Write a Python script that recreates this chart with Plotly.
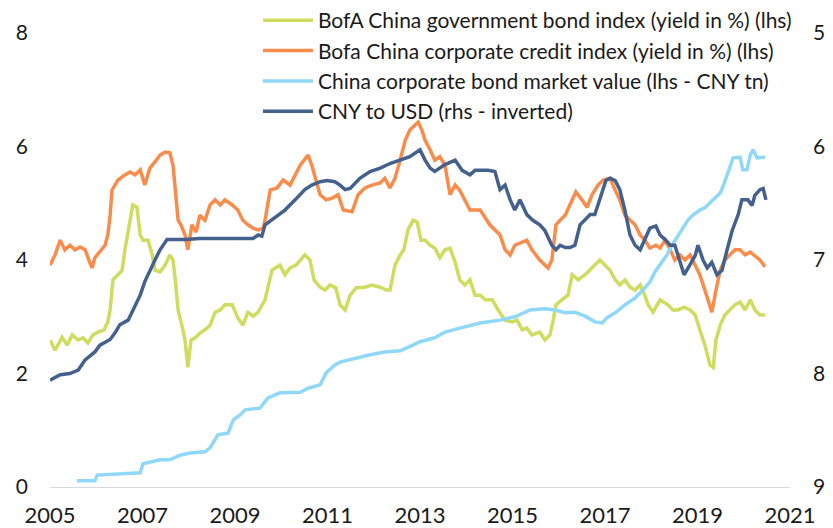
import plotly.graph_objects as go

# ---- Data ----
gov_t = [2005.00,2005.11,2005.26,2005.37,2005.48,2005.61,2005.71,2005.82,2005.93,2006.04,2006.17,2006.25,2006.30,2006.36,2006.47,2006.56,2006.62,2006.73,2006.79,2006.88,2006.95,2007.01,2007.12,2007.21,2007.27,2007.38,2007.49,2007.59,2007.66,2007.72,2007.77,2007.85,2007.92,2007.98,2008.05,2008.14,2008.24,2008.35,2008.46,2008.57,2008.68,2008.78,2008.94,2009.06,2009.17,2009.28,2009.39,2009.50,2009.65,2009.80,2009.97,2010.08,2010.19,2010.32,2010.41,2010.51,2010.62,2010.71,2010.84,2010.95,2011.05,2011.18,2011.27,2011.38,2011.49,2011.62,2011.81,2011.96,2012.14,2012.27,2012.35,2012.46,2012.57,2012.65,2012.74,2012.85,2012.94,2013.02,2013.11,2013.22,2013.32,2013.43,2013.54,2013.65,2013.76,2013.86,2013.97,2014.08,2014.19,2014.30,2014.41,2014.56,2014.69,2014.84,2014.99,2015.10,2015.21,2015.31,2015.42,2015.59,2015.70,2015.81,2015.88,2015.94,2016.07,2016.20,2016.29,2016.42,2016.57,2016.68,2016.78,2016.89,2017.00,2017.11,2017.22,2017.32,2017.43,2017.54,2017.65,2017.76,2017.86,2017.93,2018.04,2018.10,2018.19,2018.36,2018.47,2018.58,2018.71,2018.84,2018.95,2019.05,2019.16,2019.27,2019.34,2019.40,2019.49,2019.59,2019.70,2019.81,2019.92,2020.03,2020.14,2020.24,2020.35,2020.46]
gov_v = [2.59,2.41,2.64,2.50,2.68,2.59,2.63,2.54,2.68,2.73,2.77,2.91,3.12,3.65,3.74,3.82,4.18,4.71,4.97,4.93,4.44,4.35,4.35,4.09,3.82,3.79,3.91,4.09,4.00,3.56,3.12,2.85,2.59,2.11,2.59,2.63,2.71,2.77,2.85,3.08,3.12,3.21,3.21,2.98,2.85,3.08,3.01,3.08,3.30,3.82,3.91,3.74,3.86,3.91,4.00,4.09,4.00,3.65,3.52,3.47,3.56,3.51,3.21,3.12,3.38,3.51,3.52,3.56,3.52,3.47,3.47,3.91,4.09,4.18,4.53,4.70,4.67,4.35,4.35,4.26,4.21,4.04,4.18,4.21,3.96,3.65,3.56,3.65,3.38,3.38,3.30,3.30,3.12,2.94,2.91,2.94,2.77,2.80,2.68,2.73,2.59,2.68,2.94,3.21,3.30,3.38,3.74,3.65,3.74,3.82,3.91,4.00,3.91,3.82,3.65,3.56,3.65,3.52,3.47,3.56,3.38,3.21,3.08,3.17,3.30,3.21,3.12,3.12,3.17,3.12,3.03,2.77,2.50,2.15,2.11,2.59,2.85,3.03,3.12,3.21,3.26,3.12,3.30,3.12,3.03,3.03]

corp_t = [2005.00,2005.11,2005.22,2005.32,2005.43,2005.54,2005.65,2005.76,2005.86,2005.91,2005.97,2006.08,2006.19,2006.25,2006.30,2006.34,2006.41,2006.47,2006.62,2006.73,2006.84,2006.95,2007.05,2007.16,2007.27,2007.38,2007.49,2007.59,2007.66,2007.72,2007.77,2007.83,2007.92,2007.98,2008.07,2008.16,2008.24,2008.35,2008.46,2008.57,2008.68,2008.78,2008.94,2009.06,2009.17,2009.28,2009.39,2009.50,2009.61,2009.65,2009.76,2009.91,2010.04,2010.19,2010.30,2010.41,2010.58,2010.66,2010.75,2010.84,2010.97,2011.10,2011.23,2011.34,2011.53,2011.66,2011.81,2011.96,2012.14,2012.24,2012.35,2012.46,2012.57,2012.68,2012.78,2012.96,2013.04,2013.11,2013.22,2013.32,2013.43,2013.54,2013.65,2013.76,2013.86,2013.97,2014.08,2014.30,2014.51,2014.73,2014.84,2014.95,2015.05,2015.31,2015.42,2015.59,2015.77,2015.85,2015.94,2016.03,2016.14,2016.24,2016.37,2016.50,2016.61,2016.72,2016.85,2016.96,2017.11,2017.22,2017.32,2017.43,2017.54,2017.65,2017.76,2017.86,2017.97,2018.10,2018.19,2018.30,2018.41,2018.51,2018.62,2018.73,2018.84,2019.05,2019.16,2019.31,2019.40,2019.49,2019.59,2019.70,2019.81,2019.92,2020.03,2020.14,2020.24,2020.35,2020.46]
corp_v = [3.91,4.09,4.35,4.18,4.26,4.18,4.23,4.18,3.96,3.86,4.04,4.14,4.26,4.44,4.79,5.23,5.32,5.41,5.50,5.55,5.50,5.59,5.32,5.62,5.73,5.85,5.90,5.89,5.67,5.06,4.70,4.62,4.44,4.18,4.62,4.49,4.79,4.70,4.97,5.06,4.97,5.06,4.97,4.88,4.70,4.62,4.56,4.53,4.56,4.70,5.23,5.27,5.41,5.32,5.50,5.67,5.85,5.67,5.41,5.15,5.06,5.09,5.15,4.88,4.85,5.15,5.27,5.32,5.36,5.44,5.27,5.44,5.76,6.11,6.29,6.43,6.29,6.11,5.94,5.76,5.82,5.67,5.15,5.32,5.23,5.06,4.88,4.88,4.62,4.44,4.18,4.09,4.26,4.35,4.18,4.00,3.86,4.00,4.62,4.70,4.79,4.97,5.20,5.06,4.93,5.15,5.32,5.41,5.44,5.23,5.06,4.79,4.70,4.62,4.44,4.35,4.21,4.26,4.21,4.35,4.18,4.00,4.09,4.00,4.09,3.74,3.47,3.08,3.47,3.82,4.00,4.09,4.18,4.18,4.09,4.14,4.07,4.00,3.88]

mkt_t = [2005.58,2005.97,2006.02,2006.73,2006.95,2007.01,2007.38,2007.59,2007.81,2008.03,2008.35,2008.46,2008.63,2008.85,2008.96,2009.11,2009.22,2009.54,2009.71,2009.97,2010.41,2010.58,2010.84,2010.97,2011.16,2011.27,2011.59,2011.92,2012.24,2012.57,2012.85,2013.00,2013.32,2013.54,2013.86,2014.30,2014.73,2015.05,2015.38,2015.70,2015.92,2016.14,2016.35,2016.57,2016.78,2016.94,2017.04,2017.22,2017.43,2017.65,2017.82,2017.97,2018.08,2018.19,2018.34,2018.45,2018.56,2018.69,2018.79,2018.90,2019.05,2019.16,2019.27,2019.38,2019.49,2019.55,2019.64,2019.77,2019.92,2019.98,2020.07,2020.14,2020.20,2020.29,2020.46]
mkt_v = [0.11,0.11,0.21,0.23,0.25,0.41,0.48,0.48,0.56,0.60,0.62,0.69,0.92,0.95,1.18,1.27,1.36,1.39,1.57,1.66,1.67,1.74,1.80,2.01,2.15,2.20,2.27,2.33,2.38,2.40,2.50,2.56,2.63,2.73,2.80,2.89,2.94,3.00,3.12,3.14,3.12,3.07,3.08,3.01,2.91,2.89,2.98,3.07,3.21,3.33,3.47,3.61,3.79,3.91,4.09,4.26,4.41,4.56,4.70,4.79,4.88,4.92,5.00,5.09,5.18,5.29,5.50,5.80,5.81,5.59,5.59,5.85,5.94,5.80,5.81]

cny_t = [2005.00,2005.22,2005.43,2005.61,2005.76,2005.97,2006.08,2006.30,2006.41,2006.51,2006.69,2006.79,2006.95,2007.05,2007.16,2007.27,2007.38,2007.44,2007.53,2007.70,2007.92,2008.24,2008.68,2009.11,2009.39,2009.50,2009.58,2009.65,2009.86,2010.08,2010.30,2010.51,2010.66,2010.84,2010.99,2011.16,2011.27,2011.38,2011.49,2011.70,2011.92,2012.14,2012.35,2012.57,2012.78,2013.00,2013.11,2013.22,2013.32,2013.54,2013.76,2013.91,2014.08,2014.19,2014.47,2014.62,2014.73,2014.84,2014.95,2015.05,2015.16,2015.31,2015.44,2015.59,2015.70,2015.85,2015.94,2016.03,2016.14,2016.24,2016.35,2016.46,2016.57,2016.68,2016.78,2016.89,2017.02,2017.11,2017.22,2017.32,2017.43,2017.54,2017.65,2017.76,2017.86,2017.97,2018.10,2018.19,2018.30,2018.41,2018.51,2018.62,2018.71,2018.84,2018.95,2019.01,2019.12,2019.21,2019.31,2019.42,2019.53,2019.64,2019.75,2019.88,2019.96,2020.09,2020.18,2020.24,2020.35,2020.42,2020.48]
cny_v = [8.06,8.01,8.00,7.97,7.88,7.81,7.75,7.70,7.64,7.57,7.53,7.44,7.31,7.19,7.09,7.00,6.91,6.87,6.82,6.82,6.82,6.81,6.81,6.81,6.81,6.78,6.79,6.69,6.63,6.56,6.47,6.38,6.34,6.31,6.30,6.31,6.34,6.38,6.37,6.28,6.22,6.19,6.15,6.12,6.09,6.03,6.12,6.19,6.22,6.16,6.12,6.21,6.25,6.21,6.21,6.22,6.38,6.34,6.47,6.56,6.47,6.60,6.65,6.69,6.74,6.87,6.91,6.87,6.89,6.89,6.87,6.69,6.65,6.60,6.60,6.47,6.30,6.28,6.30,6.38,6.56,6.78,6.87,6.91,6.82,6.72,6.70,6.78,6.82,6.87,6.87,7.02,7.13,7.04,6.96,6.87,7.00,7.07,7.02,7.13,7.09,6.91,6.74,6.60,6.47,6.47,6.52,6.43,6.38,6.37,6.47]

names = [
    "BofA China government bond index (yield in %) (lhs)",
    "Bofa China corporate credit index (yield in %) (lhs)",
    "China corporate bond market value (lhs - CNY tn)",
    "CNY to USD (rhs - inverted)",
]
colors = ["#CEDC60", "#FA8C4B", "#8FD8F8", "#44608C"]
x_ticks = [2005, 2007, 2009, 2011, 2013, 2015, 2017, 2019, 2021]
left_ticks = [0, 2, 4, 6, 8]
right_ticks = [5, 6, 7, 8, 9]

FONT = "Lato"
LW = 3.5

fig = go.Figure()
fig.add_trace(go.Scatter(x=gov_t, y=gov_v, name=names[0], mode="lines",
                         line=dict(color=colors[0], width=LW), yaxis="y"))
fig.add_trace(go.Scatter(x=corp_t, y=corp_v, name=names[1], mode="lines",
                         line=dict(color=colors[1], width=LW), yaxis="y"))
fig.add_trace(go.Scatter(x=mkt_t, y=mkt_v, name=names[2], mode="lines",
                         line=dict(color=colors[2], width=LW), yaxis="y"))
fig.add_trace(go.Scatter(x=cny_t, y=cny_v, name=names[3], mode="lines",
                         line=dict(color=colors[3], width=LW), yaxis="y2"))

# page body has an 8px margin, so the figure is sized to end at the window edge
fig.update_layout(
    width=825, height=520,
    margin=dict(l=42, r=43, t=25, b=41, autoexpand=False),
    paper_bgcolor="white", plot_bgcolor="white",
    font=dict(family=FONT, size=21, color="#1a1a1a"),
    showlegend=True,
    legend=dict(x=0.281, y=1.0724, xanchor="left", yanchor="top",
                bgcolor="rgba(0,0,0,0)", font=dict(size=21, family=FONT, color="#1a1a1a"),
                itemwidth=50),
    xaxis=dict(range=[2005, 2021], tickvals=x_ticks, ticktext=[str(v) for v in x_ticks],
               showgrid=False, zeroline=False, showline=True, linecolor="#d9d9d9", linewidth=1,
               ticks="", ticklabelstandoff=9, tickfont=dict(size=22)),
    yaxis=dict(range=[0, 8], tickvals=left_ticks, showgrid=False, zeroline=False,
               showline=False, ticks="", ticklabelstandoff=21, tickfont=dict(size=21)),
    yaxis2=dict(range=[9, 5], tickvals=right_ticks, overlaying="y", side="right",
                showgrid=False, zeroline=False, showline=False, ticks="",
                ticklabelstandoff=22, tickfont=dict(size=21)),
)

fig.write_html("out.html")
